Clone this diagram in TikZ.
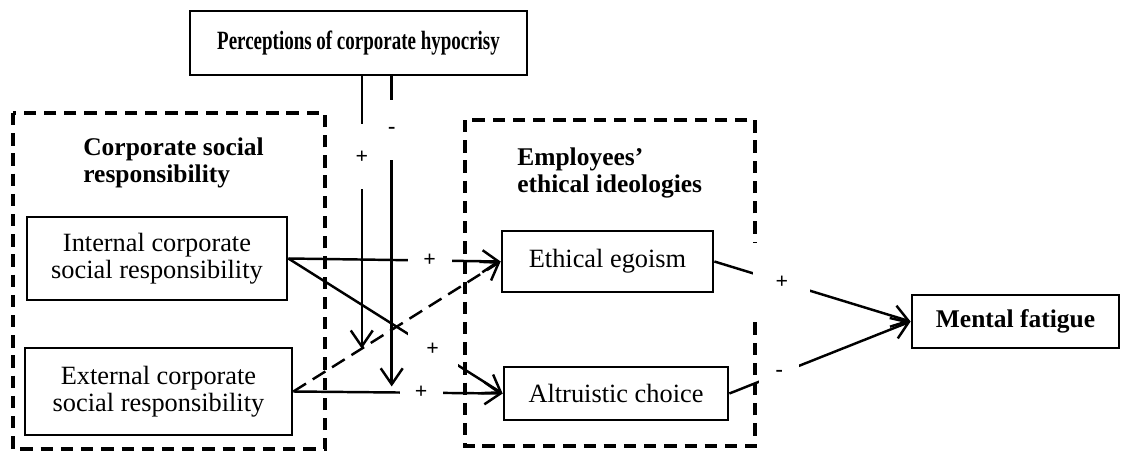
\documentclass[tikz,border=0pt]{standalone}
\usepackage{fontspec}
\setmainfont{Liberation Serif}
\usetikzlibrary{calc}
\usetikzlibrary{arrows.meta}

\tikzset{
  box/.style={draw,line width=1.6pt,inner sep=0pt,align=center,font=\fontsize{15}{15.5}\selectfont},
  grp/.style={line width=1.8pt,dash pattern=on 7pt off 4.5pt},
  head/.style={align=left,inner sep=0pt,font=\fontsize{14.5}{15.5}\selectfont\bfseries},
  link/.style={line width=1.4pt,-{Straight Barb[length=3.2mm,width=4.4mm,line width=1.4pt]}},
  sign/.style={fill=white,inner sep=0pt,font=\fontsize{12.5}{12.5}\selectfont\bfseries},
}

\begin{document}
\begin{tikzpicture}[x=0.02cm,y=-0.02cm]
\useasboundingbox (0,0) rectangle (1122,453);

% the two groups
\draw[grp] (13,113) rectangle (325,449);
\draw[grp] (465,120) rectangle (755,446);

\node[head,anchor=west] (csr) at (83,163) {Corporate social\\responsibility};
\node[head,anchor=west] (eei) at (517,173) {Employees’\\ethical ideologies};

\node[box,minimum width=6.74cm,minimum height=1.28cm] (hyp) at (358.5,43)
  {\bfseries\scalebox{0.72}[1]{Perceptions of corporate hypocrisy}};

\node[box,minimum width=5.2cm,minimum height=1.66cm] (icsr) at (157,258.5)
  {Internal corporate\\social responsibility};
\node[box,minimum width=5.34cm,minimum height=1.74cm] (ecsr) at (158.5,391.5)
  {External corporate\\social responsibility};

\node[box,minimum width=4.22cm,minimum height=1.22cm] (ego) at (607.5,261.5) {Ethical egoism};
\node[box,minimum width=4.48cm,minimum height=1.06cm] (alt) at (616,393.5) {Altruistic choice};

\node[box,minimum width=4.14cm,minimum height=1.06cm,font=\fontsize{14.5}{15.5}\selectfont\bfseries]
  (fat) at (1015.5,321.5) {Mental fatigue};

% moderation points
\coordinate (m1) at ($(ecsr.east)!0.33!(ego.west)$);
\coordinate (m2) at ($(ecsr.east)!0.47!(alt.west)$);

\draw[link,dash pattern=on 8.5pt off 4.5pt] (ecsr.east) -- (ego.west);
\draw[link] (icsr.east) -- node[sign,pos=0.665,minimum width=0.88cm,minimum height=0.5cm] {+} (ego.west);
\draw[link] (icsr.east) -- node[sign,pos=0.673,minimum width=1cm,minimum height=0.7cm] {+} (alt.west);
\draw[link] (ecsr.east) -- node[sign,pos=0.61,minimum width=0.86cm,minimum height=0.5cm] {+} (alt.west);

\draw[link] (m1 |- hyp.south) -- node[sign,pos=0.296,minimum width=0.5cm,minimum height=1.3cm] {+} (m1);
\draw[link,shorten >=1.2mm] (m2 |- hyp.south) -- node[sign,pos=0.171,minimum width=0.5cm,minimum height=1.2cm] {-} (m2);

\draw[link] (ego.east) -- node[sign,pos=0.344,minimum width=1.14cm,minimum height=1.56cm] {+} (fat.west);
\draw[link] (alt.east) -- node[sign,pos=0.275,minimum width=0.8cm,minimum height=0.46cm] {-} (fat.west);

\end{tikzpicture}
\end{document}
